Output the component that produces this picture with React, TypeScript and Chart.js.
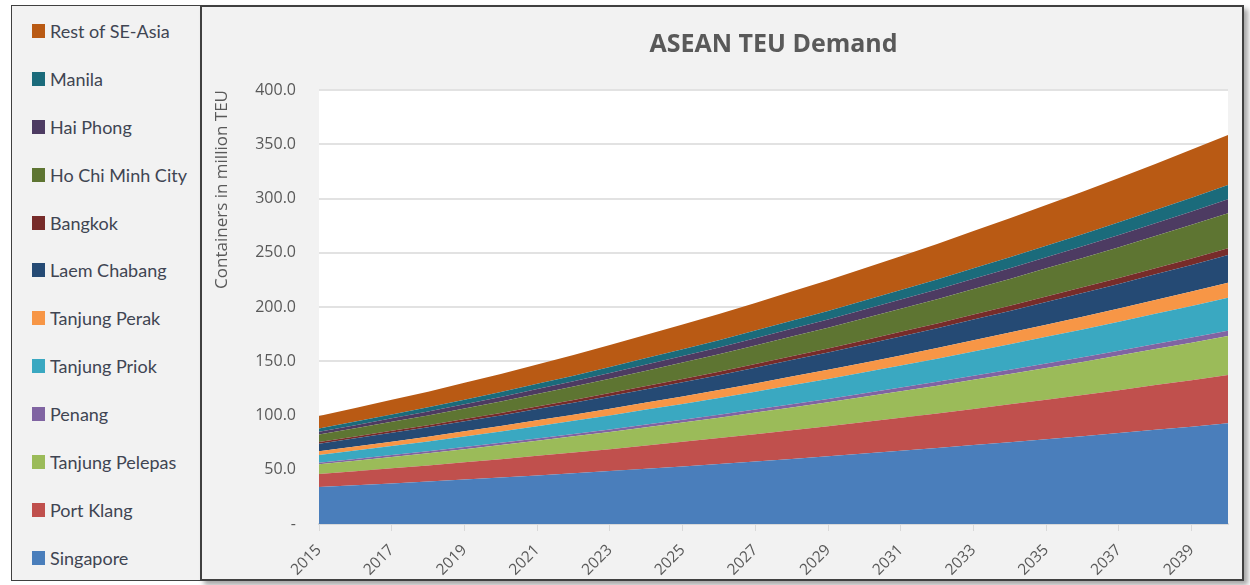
import React, { useEffect, useRef } from 'react';
import { Chart, registerables } from 'chart.js';

Chart.register(...registerables);

// ---------- data ----------
const years = ['2015', '2016', '2017', '2018', '2019', '2020', '2021', '2022', '2023', '2024', '2025', '2026', '2027',
  '2028', '2029', '2030', '2031', '2032', '2033', '2034', '2035', '2036', '2037', '2038', '2039', '2040'];

const seriesNames = ['Singapore', 'Port Klang', 'Tanjung Pelepas', 'Penang', 'Tanjung Priok', 'Tanjung Perak',
  'Laem Chabang', 'Bangkok', 'Ho Chi Minh City', 'Hai Phong', 'Manila', 'Rest of SE-Asia'];

const singapore = [34.0, 35.7, 37.4, 39.1, 41.0, 42.8, 44.8, 46.8, 48.8, 51.0, 53.1, 55.4, 57.7, 60.0, 62.4, 64.9, 67.4, 70.0, 72.7, 75.4, 78.1, 80.9, 83.8, 86.8, 89.7, 92.8];
const portKlang = [12.0, 12.9, 13.9, 14.8, 15.8, 16.9, 18.0, 19.1, 20.2, 21.4, 22.6, 23.8, 25.1, 26.4, 27.7, 29.1, 30.5, 31.9, 33.4, 34.9, 36.4, 37.9, 39.5, 41.2, 42.8, 44.5];
const tanjungPelepas = [9.0, 9.8, 10.5, 11.4, 12.2, 13.1, 14.0, 14.9, 15.8, 16.8, 17.8, 18.8, 19.9, 21.0, 22.1, 23.2, 24.4, 25.5, 26.8, 28.0, 29.3, 30.6, 31.9, 33.2, 34.6, 36.0];
const penang = [1.5, 1.6, 1.7, 1.8, 1.9, 2.0, 2.1, 2.2, 2.4, 2.5, 2.6, 2.7, 2.9, 3.0, 3.1, 3.3, 3.4, 3.6, 3.7, 3.9, 4.1, 4.2, 4.4, 4.6, 4.7, 4.9];
const tanjungPriok = [7.0, 7.7, 8.3, 9.0, 9.8, 10.5, 11.3, 12.1, 12.9, 13.8, 14.6, 15.5, 16.4, 17.4, 18.3, 19.3, 20.3, 21.3, 22.4, 23.5, 24.6, 25.7, 26.8, 28.0, 29.2, 30.4];
const tanjungPerak = [3.5, 3.8, 4.1, 4.4, 4.7, 5.0, 5.4, 5.7, 6.1, 6.5, 6.9, 7.2, 7.6, 8.1, 8.5, 8.9, 9.4, 9.8, 10.3, 10.7, 11.2, 11.7, 12.2, 12.7, 13.3, 13.8];
const laemChabang = [7.0, 7.5, 8.1, 8.6, 9.2, 9.8, 10.4, 11.0, 11.7, 12.3, 13.0, 13.7, 14.4, 15.2, 15.9, 16.7, 17.5, 18.3, 19.2, 20.0, 20.9, 21.8, 22.7, 23.6, 24.5, 25.5];
const bangkok = [1.6, 1.7, 1.9, 2.0, 2.1, 2.3, 2.4, 2.6, 2.8, 2.9, 3.1, 3.3, 3.5, 3.6, 3.8, 4.0, 4.2, 4.4, 4.6, 4.8, 5.1, 5.3, 5.5, 5.7, 6.0, 6.2];
const hoChiMinhCity = [6.8, 7.5, 8.3, 9.0, 9.8, 10.6, 11.5, 12.3, 13.2, 14.1, 15.1, 16.0, 17.0, 18.0, 19.1, 20.2, 21.2, 22.4, 23.5, 24.7, 25.9, 27.1, 28.3, 29.6, 30.9, 32.2];
const haiPhong = [2.6, 2.9, 3.2, 3.5, 3.8, 4.1, 4.5, 4.8, 5.2, 5.6, 6.0, 6.3, 6.7, 7.2, 7.6, 8.0, 8.5, 8.9, 9.4, 9.8, 10.3, 10.8, 11.3, 11.8, 12.4, 12.9];
const manila = [3.0, 3.3, 3.6, 3.9, 4.2, 4.5, 4.9, 5.2, 5.6, 6.0, 6.3, 6.7, 7.1, 7.5, 7.9, 8.4, 8.8, 9.2, 9.7, 10.2, 10.6, 11.1, 11.6, 12.1, 12.7, 13.2];
const restOfSEAsia = [11.5, 12.5, 13.5, 14.5, 15.6, 16.7, 17.8, 19.0, 20.2, 21.5, 22.8, 24.1, 25.4, 26.8, 28.2, 29.7, 31.2, 32.7, 34.3, 35.8, 37.5, 39.1, 40.8, 42.5, 44.3, 46.1];

const seriesValues = [singapore, portKlang, tanjungPelepas, penang, tanjungPriok, tanjungPerak,
  laemChabang, bangkok, hoChiMinhCity, haiPhong, manila, restOfSEAsia];

const yMin = 0;
const yMax = 400;
const yStep = 50;

// ---------- styles ----------
const seriesColors = ['#4a7ebb', '#c0504d', '#9bbb59', '#8064a2', '#3aa8c1', '#f79646',
  '#254a74', '#772c2a', '#5e7532', '#4d3b62', '#1b6b7b', '#b95a14'];

const TEXT = '#595959';

const plotBackground = {
  id: 'plotBackground',
  beforeDraw(chart: any) {
    const { ctx, chartArea } = chart;
    if (!chartArea) return;
    ctx.save();
    ctx.fillStyle = '#ffffff';
    ctx.fillRect(chartArea.left, chartArea.top, chartArea.right - chartArea.left, chartArea.bottom - chartArea.top);
    ctx.restore();
  },
};

export default function App() {
  const canvasRef = useRef<HTMLCanvasElement | null>(null);

  useEffect(() => {
    if (!canvasRef.current) return;
    const chart = new Chart(canvasRef.current, {
      type: 'line',
      data: {
        labels: years,
        datasets: seriesNames.map((name, i) => ({
          label: name,
          data: seriesValues[i],
          backgroundColor: seriesColors[i],
          borderColor: seriesColors[i],
          borderWidth: 0,
          pointRadius: 0,
          pointHoverRadius: 0,
          fill: i === 0 ? 'origin' : '-1',
          tension: 0,
        })),
      },
      options: {
        animation: false,
        responsive: false,
        events: [],
        layout: { padding: { left: 8, right: 14, top: 0, bottom: 0 } },
        plugins: {
          legend: { display: false },
          tooltip: { enabled: false },
          title: {
            display: true,
            text: 'ASEAN TEU Demand',
            color: TEXT,
            fullSize: false,
            font: { family: 'Open Sans', size: 25, weight: 'bold' },
            padding: { top: 23, bottom: 30 },
          },
        },
        scales: {
          x: {
            type: 'category',
            offset: false,
            grid: { display: true, drawOnChartArea: false, drawTicks: true, tickLength: 7, color: '#d9d9d9', lineWidth: 1 },
            border: { display: true, color: '#d9d9d9', width: 2 },
            ticks: {
              autoSkip: false,
              maxRotation: 45,
              minRotation: 45,
              padding: 10,
              color: TEXT,
              font: { family: 'Open Sans', size: 15.5 },
            },
            afterBuildTicks: (axis: any) => {
              axis.ticks = axis.ticks.filter((t: any) => t.value % 2 === 0);
            },
            afterFit: (axis: any) => {
              axis.height = 55;
            },
          },
          y: {
            stacked: true,
            min: yMin,
            max: yMax,
            grid: { color: '#e2e2e2', lineWidth: 2, drawTicks: false },
            border: { display: false },
            ticks: {
              stepSize: yStep,
              padding: 23,
              color: TEXT,
              font: { family: 'Open Sans', size: 16 },
              callback: (v: any) => (Number(v) === 0 ? '-' : Number(v).toFixed(1)),
            },
            title: {
              display: true,
              text: 'Containers in million TEU',
              align: 'end',
              color: TEXT,
              font: { family: 'Open Sans', size: 17 },
              padding: { top: 2, bottom: 0 },
            },
            afterFit: (axis: any) => {
              axis.width = 109;
            },
          },
        },
      } as any,
      plugins: [plotBackground],
    });
    return () => chart.destroy();
  }, []);

  const legendOrder = seriesNames.map((_, i) => seriesNames.length - 1 - i);

  return (
    <div style={{ position: 'fixed', left: 0, top: 0, width: 1250, height: 585, background: '#ffffff', overflow: 'hidden' }}>
      <div
        style={{
          position: 'absolute', left: 11, top: 5, width: 191, height: 576, boxSizing: 'border-box',
          border: '1px solid #404040', background: '#f2f2f2', paddingLeft: 20, paddingTop: 1,
        }}
      >
        {legendOrder.map((i) => (
          <div key={seriesNames[i]} style={{ height: 47.9, display: 'flex', alignItems: 'center' }}>
            <span style={{ display: 'inline-block', width: 13, height: 14, background: seriesColors[i], marginRight: 5 }} />
            <span style={{ fontFamily: 'Lato', fontSize: 18, color: '#404552', whiteSpace: 'nowrap' }}>{seriesNames[i]}</span>
          </div>
        ))}
      </div>
      <div
        style={{
          position: 'absolute', left: 200, top: 5, width: 1044, height: 576, boxSizing: 'border-box',
          border: '2px solid #404040', background: '#f2f2f2', boxShadow: '4px 4px 5px rgba(0,0,0,0.35)',
        }}
      >
        <canvas ref={canvasRef} width={1040} height={572} style={{ display: 'block' }} />
      </div>
    </div>
  );
}
